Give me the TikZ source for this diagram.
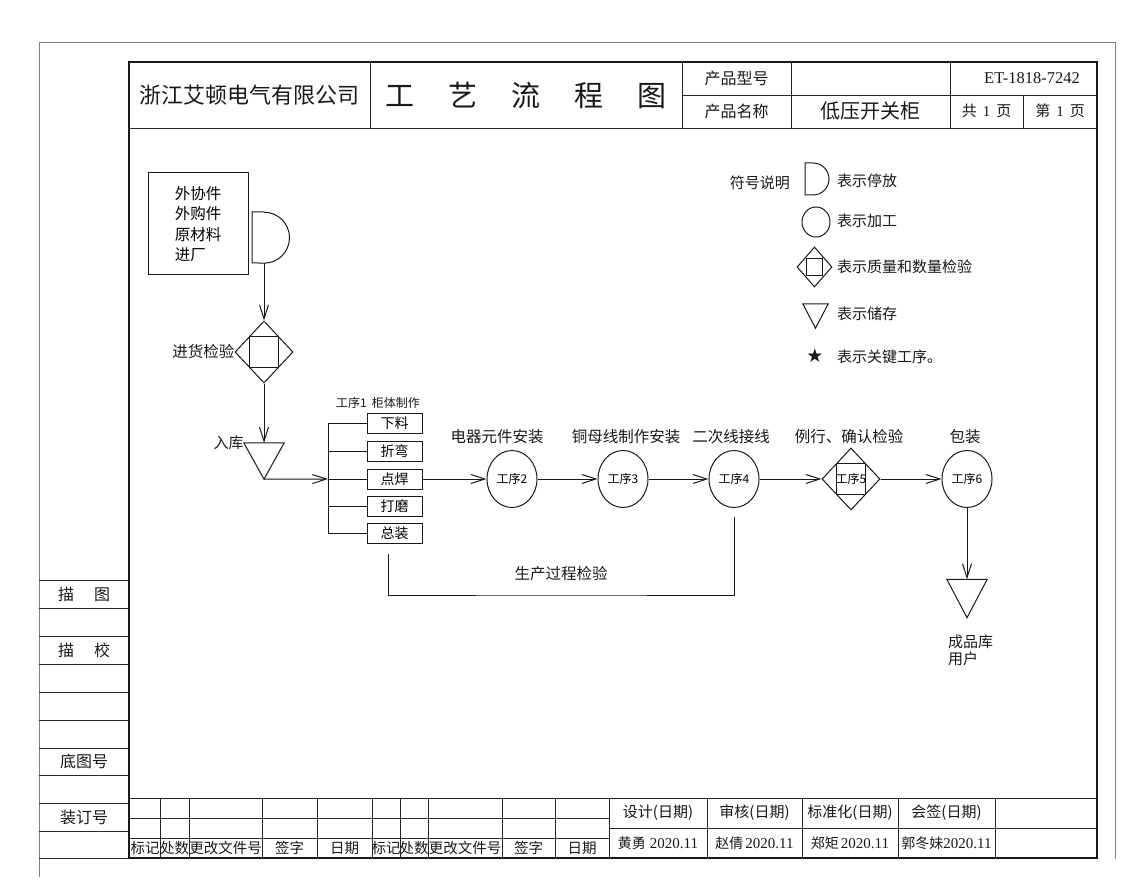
\documentclass[tikz,border=0pt]{standalone}
\usepackage{fontspec}
\setmainfont{Noto Sans CJK SC}
\newfontfamily\lser{Liberation Serif}
\newfontfamily\djv{DejaVu Sans}
\usetikzlibrary{shapes.geometric,arrows.meta}
\newcommand\myfs[1]{\fontsize{#1}{#1}\selectfont}
\newcommand\myfsl[2]{\fontsize{#1}{#2}\selectfont}
\begin{document}
\begin{tikzpicture}[x=1pt,y=-1pt,
  ln/.style={draw=black!90, line width=1pt},
  arr/.style={ln, -{Straight Barb[length=14pt,width=9pt]}},
  lbl/.style={inner sep=0, text=black!90},
  grid/.style={draw=black!85, line width=0.9pt},
  frame/.style={draw=black!50, line width=0.8pt},
  proc/.style={ellipse, ln, minimum width=50, minimum height=57, inner sep=0, font=\myfs{12}},
  qc/.style={diamond, ln, minimum width=58, minimum height=62, inner sep=0, font=\myfs{12},
    path picture={\draw[ln] (path picture bounding box.center) ++(-14.5,-15.5) rectangle ++(29,31);}},
  sbox/.style={rectangle, ln, minimum width=55, minimum height=20, inner sep=0, font=\myfs{14}},
  tri/.style={rectangle, inner sep=0, minimum width=40, minimum height=36},
  flab/.style={lbl, font=\myfs{15.5}},
  leg/.style={lbl, anchor=west, font=\myfs{15}},
  cell/.style={lbl, font=\myfs{14.5}},
]
\useasboundingbox (0,0) rectangle (1148,893);
\fill[white] (0,0) rectangle (1148,893);

% outer and inner frame
\draw[frame] (39,877) -- (39,42) -- (1115,42) -- (1115,859);
\draw[ln, line width=1.4pt] (129,62) rectangle (1097,858);

% title block
\draw[grid] (129,128) -- (1097,128);
\foreach \x in {370,682,791,950} \draw[grid] (\x,62) -- (\x,128);
\draw[grid] (682,95) -- (1097,95);
\draw[grid] (1023,95) -- (1023,128);
\node[lbl, font=\myfs{22}] (company) at (249.5,95) {浙江艾顿电气有限公司};
\node[lbl, font=\myfs{29}] (title) at (526,95) {工\hspace{34pt}艺\hspace{34pt}流\hspace{34pt}程\hspace{34pt}图};
\node[lbl, font=\myfs{16}] (xh) at (736.5,78) {产品型号};
\node[lbl, font=\myfs{16}] (mc) at (736.5,111) {产品名称};
\node[lbl, font=\myfs{20}] (pname) at (870.5,111) {低压开关柜};
\node[lbl, font=\lser\myfs{16.5}] (pno) at (1032,78) {ET-1818-7242};
\node[lbl, font=\myfs{15}] (pg1) at (986.5,111) {共\hspace{6pt}{\lser 1}\hspace{6pt}页};
\node[lbl, font=\myfs{15}] (pg2) at (1060,111) {第\hspace{6pt}{\lser 1}\hspace{6pt}页};

% side column
\foreach \y in {580,608,636,664,692,720,748,775,803,831,858} \draw[grid] (39,\y) -- (129,\y);
\node[lbl, font=\myfs{16}] (s1) at (84,594) {描\hspace{20pt}图};
\node[lbl, font=\myfs{16}] (s2) at (84,650) {描\hspace{20pt}校};
\node[lbl, font=\myfs{16}] (s3) at (84,761) {底图号};
\node[lbl, font=\myfs{16}] (s4) at (84,817) {装订号};

% bottom table
\draw[grid] (129,798) -- (1097,798);
\draw[grid] (129,818) -- (609,818);
\draw[grid] (129,838) -- (609,838);
\draw[grid] (609,828) -- (1097,828);
\foreach \x in {160,189,262,317,372,400,428,502,555,609,707,802,898,995} \draw[grid] (\x,798) -- (\x,858);
\node[cell] (t1) at (145,848) {标记};
\node[cell] (t2) at (174.5,848) {处数};
\node[cell] (t3) at (225.5,848) {更改文件号};
\node[cell] (t4) at (289.5,848) {签字};
\node[cell] (t5) at (344.5,848) {日期};
\node[cell] (t6) at (386,848) {标记};
\node[cell] (t7) at (414,848) {处数};
\node[cell] (t8) at (465,848) {更改文件号};
\node[cell] (t9) at (528.5,848) {签字};
\node[cell] (t10) at (582,848) {日期};
\node[cell, font=\myfs{15}] (r1) at (658,813) {设计(日期)};
\node[cell, font=\myfs{15}] (r2) at (754.5,813) {审核(日期)};
\node[cell, font=\myfs{15}] (r3) at (850,813) {标准化(日期)};
\node[cell, font=\myfs{15}] (r4) at (946.5,813) {会签(日期)};
\node[cell, font=\myfs{14}] (n1) at (658,843) {黄勇\hspace{4pt}{\lser\myfs{15}2020.11}};
\node[cell, font=\myfs{14}] (n2) at (754.5,843) {赵倩\hspace{2pt}{\lser\myfs{15}2020.11}};
\node[cell, font=\myfs{14}] (n3) at (850,843) {郑矩\hspace{2pt}{\lser\myfs{15}2020.11}};
\node[cell, font=\myfs{14}] (n4) at (946.5,843) {郭冬妹{\lser\myfs{15}2020.11}};

% legend
\node[lbl, anchor=east, font=\myfs{15}] (lg0) at (790,183) {符号说明};
\draw[ln] (813,163) -- (805,163) -- (805,195) -- (813,195) arc[start angle=90, end angle=-90, radius=16];
\node[ellipse, ln, minimum width=28, minimum height=30, inner sep=0] (lg2) at (816,222) {};
\node[diamond, ln, minimum width=35, minimum height=40, inner sep=0,
  path picture={\draw[ln] (path picture bounding box.center) ++(-8,-8.5) rectangle ++(16,17);}] (lg3) at (814.5,267) {};
\node[tri, minimum width=25, minimum height=24] (lg4) at (815.5,316) {};
\draw[ln] (lg4.north west) -- (lg4.north east) -- (lg4.south) -- cycle;
\node[lbl, font=\djv\myfs{19}] (lg5) at (815,356) {★};
\node[leg] (lt1) at (837,181) {表示停放};
\node[leg] (lt2) at (837,221) {表示加工};
\node[leg] (lt3) at (837,267) {表示质量和数量检验};
\node[leg] (lt4) at (837,314) {表示储存};
\node[leg] (lt5) at (837,357) {表示关键工序。};

% incoming material
\node[rectangle, ln, minimum width=100, minimum height=102, inner sep=0, align=left, font=\myfsl{15.5}{20.5}] (src) at (198,224) {外协件\\外购件\\原材料\\进厂};
\node[circle, inner sep=0, minimum size=51] (park1) at (264,237.5) {};
\draw[ln] (park1.north) -- ++(-12,0) -- ++(0,51) -- (park1.south) arc[start angle=90, end angle=-90, radius=25.5];
\node[qc] (qc1) at (264,352) {};
\node[flab, anchor=east] (lqc1) at (qc1.west) {进货检验};
\node[tri] (store1) at (264,461) {};
\draw[ln] (store1.north west) -- (store1.north east) -- (store1.south) -- cycle;
\node[flab, anchor=east, font=\myfs{15}] (lst1) at (store1.north west) {入库};
\draw[arr] (park1.south) -- (qc1.north);
\draw[arr] (qc1.south) -- (store1.north);

% step 1
\coordinate (bar) at (328,479);
\node[lbl, font=\myfs{12}] (lp1) at (378,403) {工序1\hspace{5pt}柜体制作};
\node[sbox] (b1) at (394.5,423) {下料};
\node[sbox] (b2) at (394.5,451) {折弯};
\node[sbox] (b3) at (394.5,479) {点焊};
\node[sbox] (b4) at (394.5,506) {打磨};
\node[sbox] (b5) at (394.5,533) {总装};
\draw[arr] (store1.south) -- (bar);
\draw[ln] (b1.west) -- (b1.west -| bar) -- (b5.west -| bar) -- (b5.west);
\foreach \b in {b2,b3,b4} \draw[ln] (\b.west -| bar) -- (\b.west);

% processes
\node[proc] (p2) at (512,479) {工序2};
\node[proc] (p3) at (623,479) {工序3};
\node[proc] (p4) at (734,479) {工序4};
\node[qc] (qc5) at (851,479) {工序5};
\node[proc] (p6) at (967,479) {工序6};
\node[tri, minimum height=38] (store2) at (967,598.5) {};
\draw[ln] (store2.north west) -- (store2.north east) -- (store2.south) -- cycle;

\draw[arr] (b3.east) -- (p2.west);
\draw[arr] (p2.east) -- (p3.west);
\draw[arr] (p3.east) -- (p4.west);
\draw[arr] (p4.east) -- (qc5.west);
\draw[arr] (qc5.east) -- (p6.west);
\draw[arr] (p6.south) -- (store2.north);

\node[flab] (l2) at (497,437) {电器元件安装};
\node[flab] (l3) at (626,437) {铜母线制作安装};
\node[flab] (l4) at (731,437) {二次线接线};
\node[flab] (l5) at (849,437) {例行、确认检验};
\node[flab] (l6) at (965,437) {包装};
\node[lbl, anchor=west, align=left, font=\myfsl{15}{17}] (lst2) at (948,650.5) {成品库\\用户};

% feedback
\coordinate (fbL) at (388,554);
\coordinate (fbB) at (561,595);
\coordinate (fbR) at (734,517);
\draw[ln] (fbL) |- (fbB) -| (fbR);
\node[flab] (lfb) at (561,574) {生产过程检验};
\end{tikzpicture}
\end{document}
